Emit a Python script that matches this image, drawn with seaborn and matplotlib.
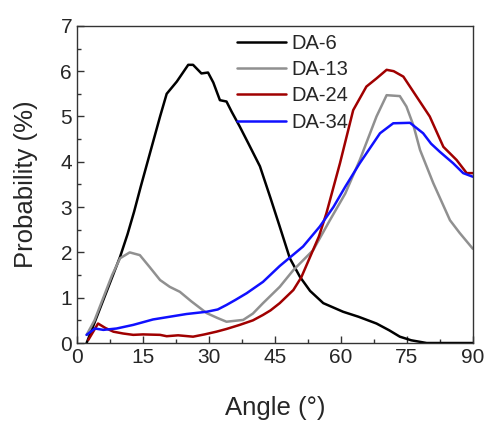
import matplotlib.pyplot as plt
import numpy as np
import pandas as pd
import seaborn as sns
from matplotlib.ticker import MultipleLocator

sns.set_style('white')
plt.rcParams['font.family'] = ['Liberation Sans', 'DejaVu Sans']

# angle (deg) / probability (%)
da6_x = [2.2, 4, 6, 8, 9.8, 11.5, 13, 14.5, 16.6, 18.9, 20.4, 22.7, 25.3, 26.4, 28.3, 29.8,
         31, 32.5, 34, 35.2, 37, 39, 41.6, 44, 46, 48.4, 50.7, 53, 56, 60.5, 64, 68.1,
         71, 73.4, 76, 79.5, 83, 90]
da6_y = [0.0, 0.45, 0.95, 1.45, 1.9, 2.4, 2.9, 3.45, 4.19, 5.0, 5.5, 5.77, 6.14, 6.14, 5.95, 5.97,
         5.75, 5.36, 5.33, 5.1, 4.78, 4.4, 3.9, 3.2, 2.6, 1.87, 1.46, 1.15, 0.88, 0.69, 0.58, 0.43,
         0.28, 0.14, 0.06, 0.0, 0.0, 0.0]

da13_x = [2.2, 4, 6, 8, 9.8, 12, 14.3, 16.5, 18.9, 21.1, 23.4, 26, 29.5, 32, 34, 37.8,
          40, 42.3, 46.1, 49.2, 53.7, 57.5, 61, 64.3, 68.1, 70.4, 73.4, 74.9, 76.5, 78,
          81, 84.8, 87, 90]
da13_y = [0.18, 0.5, 1.0, 1.5, 1.87, 2.0, 1.94, 1.68, 1.39, 1.24, 1.13, 0.92, 0.66, 0.55, 0.47, 0.51,
          0.65, 0.88, 1.24, 1.61, 2.05, 2.71, 3.3, 4.04, 5.0, 5.47, 5.45, 5.22, 4.8, 4.26,
          3.53, 2.71, 2.43, 2.08]

da24_x = [2.6, 4.8, 6.5, 8.3, 10.5, 12.8, 15, 18.9, 20.4, 23, 26.4, 29, 31.7, 34, 37,
          40, 42.3, 44, 46.1, 49.2, 51, 53, 55, 56.7, 59.8, 62.8, 65.8, 68.1, 70.4, 72,
          74.2, 77.2, 80.2, 83.3, 86.3, 88.6, 90]
da24_y = [0.07, 0.43, 0.33, 0.25, 0.21, 0.18, 0.19, 0.18, 0.15, 0.17, 0.14, 0.19, 0.25, 0.31, 0.4,
          0.5, 0.62, 0.72, 0.88, 1.17, 1.45, 1.9, 2.35, 2.86, 3.97, 5.14, 5.66, 5.84, 6.03, 6.0,
          5.88, 5.44, 5.0, 4.33, 4.04, 3.75, 3.75]

da34_x = [2.2, 4.1, 6, 9, 12.8, 17.3, 21.1, 24.9, 29.5, 32, 34, 36, 38.6, 42.3, 46.1,
          51.4, 55.2, 58.3, 61, 64.3, 68.9, 71.9, 75.7, 78.7, 80.5, 82.5, 85.5, 87.8, 90]
da34_y = [0.18, 0.32, 0.29, 0.32, 0.4, 0.52, 0.58, 0.64, 0.69, 0.74, 0.84, 0.95, 1.1, 1.35, 1.7,
          2.13, 2.57, 3.0, 3.45, 3.97, 4.63, 4.85, 4.86, 4.63, 4.4, 4.22, 3.97, 3.75, 3.67]

series = ['DA-6', 'DA-13', 'DA-24', 'DA-34']
colors = ['black', '#909090', '#a00000', '#1010ff']

df = pd.concat([
    pd.DataFrame({'angle': da6_x, 'prob': da6_y, 'sample': 'DA-6'}),
    pd.DataFrame({'angle': da13_x, 'prob': da13_y, 'sample': 'DA-13'}),
    pd.DataFrame({'angle': da24_x, 'prob': da24_y, 'sample': 'DA-24'}),
    pd.DataFrame({'angle': da34_x, 'prob': da34_y, 'sample': 'DA-34'}),
])

fig = plt.figure(figsize=(4.9, 4.24), dpi=100)
ax = fig.add_axes([0.157, 0.191, 0.808, 0.748])

sns.lineplot(data=df, x='angle', y='prob', hue='sample', hue_order=series,
             palette=colors, linewidth=1.8, sort=False, ax=ax)

ax.set_xlim(0, 90)
ax.set_ylim(0, 7)
ax.xaxis.set_major_locator(MultipleLocator(15))
ax.xaxis.set_minor_locator(MultipleLocator(7.5))
ax.yaxis.set_major_locator(MultipleLocator(1))
ax.yaxis.set_minor_locator(MultipleLocator(0.5))
ax.tick_params(which='both', direction='in', bottom=True, left=True, top=False, right=False,
               labelsize=15, width=1, color='#333333')
ax.tick_params(which='major', length=5)
ax.tick_params(which='minor', length=3)
for s in ax.spines.values():
    s.set_color('#333333')
    s.set_linewidth(1)

ax.set_xlabel('Angle (°)', fontsize=18.5, labelpad=21)
ax.set_ylabel('Probability (%)', fontsize=18.5, labelpad=16)

leg = ax.legend(loc='upper left', bbox_to_anchor=(0.385, 1.0), frameon=False, fontsize=14.5,
                handlelength=2.4, handletextpad=0.3, labelspacing=0.36, borderaxespad=0)
for line in leg.get_lines():
    line.set_linewidth(1.8)

fig.savefig('out.png', dpi=100, facecolor='w')
